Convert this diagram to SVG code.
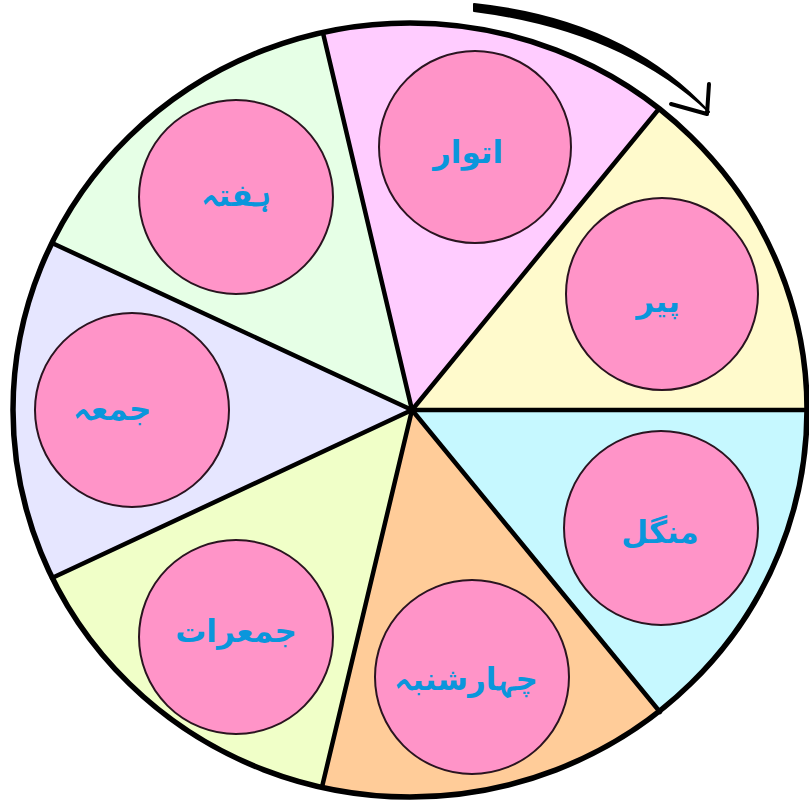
<svg xmlns="http://www.w3.org/2000/svg" width="809" height="802" viewBox="0 0 809 802">
<style>
.sec{stroke:none}
.spoke{stroke:#000;stroke-width:4.5;stroke-linecap:round}
.day{fill:#FF94C8;stroke:#2a1420;stroke-width:2}
.lbl{font-family:"DejaVu Sans","Noto Sans",sans-serif;font-weight:bold;font-size:31px;fill:#0A96DC;text-anchor:middle}
</style>
<rect width="809" height="802" fill="#fff"/>
<g id="sectors">
<path class="sec" fill="#FFCCFF" d="M412,410 L323,33 A398,388 0 0,1 658,110 Z"/>
<path class="sec" fill="#FFFACC" d="M412,410 L658,110 A398,388 0 0,1 808,410 Z"/>
<path class="sec" fill="#C6F8FF" d="M412,410 L808,410 A398,388 0 0,1 660,712 Z"/>
<path class="sec" fill="#FFCC99" d="M412,410 L660,712 A398,388 0 0,1 322,787 Z"/>
<path class="sec" fill="#F0FFC8" d="M412,410 L322,787 A398,388 0 0,1 52,578 Z"/>
<path class="sec" fill="#E6E6FF" d="M412,410 L52,578 A398,388 0 0,1 52,243 Z"/>
<path class="sec" fill="#E6FFE6" d="M412,410 L52,243 A398,388 0 0,1 323,33 Z"/>
</g>
<g id="connectors">
<line class="spoke" x1="412" y1="410" x2="323" y2="33"/>
<line class="spoke" x1="412" y1="410" x2="658" y2="110"/>
<line class="spoke" x1="412" y1="410" x2="808" y2="410"/>
<line class="spoke" x1="412" y1="410" x2="660" y2="712"/>
<line class="spoke" x1="412" y1="410" x2="322" y2="787"/>
<line class="spoke" x1="412" y1="410" x2="52" y2="578"/>
<line class="spoke" x1="412" y1="410" x2="52" y2="243"/>
<ellipse cx="410" cy="410" rx="397" ry="387" fill="none" stroke="#000" stroke-width="5.5"/>
<path d="M474,4 Q625,20 709,112 Q622,30 474,11 Z" fill="#000" stroke="#000" stroke-width="2" stroke-linejoin="round"/>
<path d="M709,84 L707,114 L671,104" fill="none" stroke="#000" stroke-width="4" stroke-linecap="round" stroke-linejoin="round"/>
</g>
<g id="sunday"><circle class="day" cx="475" cy="147" r="96"/><text class="lbl" x="468" y="163">اتوار</text></g>
<g id="monday"><circle class="day" cx="662" cy="294" r="96"/><text class="lbl" x="658" y="312">پیر</text></g>
<g id="tuesday"><circle class="day" cx="661" cy="528" r="97"/><text class="lbl" x="660" y="543">منگل</text></g>
<g id="wednesday"><circle class="day" cx="472" cy="677" r="97"/><text class="lbl" x="466" y="690">چہارشنبہ</text></g>
<g id="thursday"><circle class="day" cx="236" cy="637" r="97"/><text class="lbl" x="236" y="642">جمعرات</text></g>
<g id="friday"><circle class="day" cx="132" cy="410" r="97"/><text class="lbl" x="112" y="420">جمعہ</text></g>
<g id="saturday"><circle class="day" cx="236" cy="197" r="97"/><text class="lbl" x="236" y="206">ہفتہ</text></g>
</svg>
